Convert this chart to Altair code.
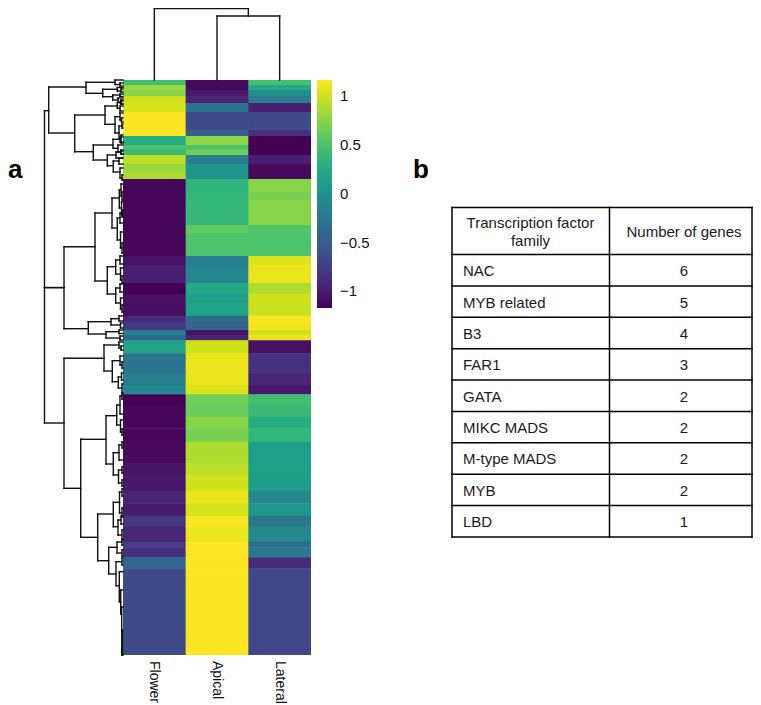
import altair as alt
import pandas as pd

FONT = "Liberation Sans"

# ---- heat map: z-scored expression, bands of genes (start in row units) ----
band_start = [0, 5, 10, 16, 23, 32, 50, 56, 65, 69.5, 75, 84, 92, 99, 112, 120, 145, 153, 176, 185, 203, 214, 223, 235.7, 241.7, 250, 255, 260.3, 273.3, 294, 305, 314.3, 325, 336.7, 348.3, 361.7, 383, 395, 410.7, 423.3, 435.7, 446.7, 461.7, 467.3, 477.3, 488.3]
band_end = band_start[1:] + [575]
flower_t = [.70, .85, .82, .93, .94, 1, 1, .62, .72, .68, .90, .85, .88, .01, .01, .01, .01, .01, .05, .08, .00, .04, .03, .12, .16, .43, .33, .58, .38, .42, .47, .00, .01, .01, .01, .02, .05, .06, .10, .07, .16, .10, .18, .14, .33, .22]
apical_t = [.02, .02, .06, .10, .38, .22, .30, .83, .72, .78, .42, .52, .50, .65, .66, .67, .76, .72, .42, .45, .60, .56, .58, .35, .32, .05, .10, .93, .97, .97, .95, .78, .77, .82, .80, .88, .90, .93, .97, .94, .99, .97, 1, 1, 1, 1]
lateral_t = [.70, .60, .50, .42, .08, .22, .14, 0, 0, 0, .08, .02, .02, .82, .80, .82, .73, .72, .95, .97, .88, .93, .92, 1, .98, .93, .97, .04, .14, .10, .06, .70, .68, .62, .66, .56, .57, .55, .47, .53, .40, .47, .35, .40, .12, .21]
columns = ["Flower", "Apical", "Lateral"]
Z_MIN, Z_MAX = -1.17, 1.165
tick_values = [-1, -0.5, 0, 0.5, 1]

# ---- row dendrogram: height, top row, bottom row, top child height, bottom child height ----
merges = [
 (78.5,30.7,207.6,74.3,59),(78.5,207.6,343,59,59),
 (74.3,7,53,37,48.3),(37,2.3,13.3,8,20.3),(8,0,4.5,0,3),(3,3,6,0,0),(20.3,9.3,16.7,5.7,10.3),
 (5.7,7.5,11,0,2),(2,9,12,0,0),(10.3,15,20,3,5),(3,14,16.5,0,0),(5,18,22,0,2),(2,20,24,0,0),
 (48.3,35,71.7,18,29.7),(18,26,44.3,5.7,8),(5.7,22.7,28.3,2,3),(2,21,24,0,0),(3,26,31,0,0),
 (8,36.7,53,3,4),(3,33,40,0,1.5),(1.5,38,42,0,0),(4,46,59,1,2),(1,44,48,0,0),(2,55,63,0,0),
 (29.7,65,80,10,15.7),(10,59.3,68.3,3,5),(3,57,62,0,0),(5,65,72,0,2),(2,70,74,0,0),
 (15.7,75,85.7,7,9.7),(7,72,78,2,0),(2,71,74,0,0),(9.7,81,92,4,3),(4,78,84,0,0),(3,88,98,0,1),(1,95,100,0,0),
 (59,166.7,248.7,28,34.7),(28,133,201,11,15.7),(11,118,148,3.7,5.7),(3.7,110,128,2,1.5),(5.7,138,160,3,2.5),
 (2,104,116,0,1),(1.5,122,134,0,.8),(3,133,143,1,0),(1,112,120,0,0),(.8,130,137,0,0),(1,130,136,0,0),
 (2.5,152,168,0,1),(1,163,173,0,0),
 (15.7,186.7,214,7.3,7.3),(7.3,180,194,3,2.5),(7.3,208,223,3,2.5),(3,176,184,0,0),(2.5,188,200,0,1),(1,196,203,0,0),
 (3,204,212,0,0),(2.5,218,229,0,1),(1,225,232,0,0),
 (34.7,241.7,254,12,17),(12,238.7,245,4,2.5),(4,236,241,0,0),(2.5,243,248,0,0),(17,251.7,258,4,3),(4,250,253.5,0,0),(3,256,260,0,0),
 (59,278.3,408.3,19,42.3),(19,265,291,4,10.7),(4,262,268,0,2),(2,266,270,0,0),
 (10.7,280.7,301.7,3,4.7),(3,276,285,0,1),(1,282,288,0,0),(4.7,297,308,1.5,1),(1.5,293,300,0,0),(1,304,313,0,0),
 (42.3,359.3,457.3,17,25.3),(17,335.7,384,6.3,9.7),(6.3,325,345,3,2.5),(3,316,334,1,0),(1,314,319,0,0),(2.5,340,352,0,1),(1,349,355,0,0),
 (9.7,372.7,395,4,4.5),(4,365,380,1,0),(1,362,368,0,0),(4.5,390,403,1,1),(1,387,393,0,0),(1,400,406,0,0),
 (25.3,434,480.7,9.7,14.3),(9.7,422.3,446.7,3.5,5),(3.5,412,433,1,1),(5,440,455,2,1),(1,409,416,0,0),(1,428,437,0,0),(2,436,444,0,0),(1,450,459,0,0),
 (14.3,467.3,494,6,7),(6,462,473,1,1),(1,460,465,0,0),(1,470,476,0,0),
 (7,481.7,505.7,1,3.7),(1,478,485,0,0),(3.7,491.7,521.7,.5,2.3),(2.3,510,534,.3,1.3),(1.3,527,575,0,.6),(.6,550,575,0,0),
]

# ---- column dendrogram: position in columns, height ----
col_merges = [(1.5, 2.5, 64, 0, 0), (0.5, 2.0, 71.5, 0, 64)]

# ---- table ----
families = ["NAC", "MYB related", "B3", "FAR1", "GATA", "MIKC MADS", "M-type MADS", "MYB", "LBD"]
gene_counts = [6, 5, 4, 3, 2, 2, 2, 2, 1]


def z_from_t(t):
    return Z_MIN + t * (Z_MAX - Z_MIN)


rows = []
for col, ts in enumerate([flower_t, apical_t, lateral_t]):
    for s, e, t in zip(band_start, band_end, ts):
        # each band is painted slightly over the previous one so no seams show
        rows.append(dict(c0=col, c1=min(col + 1.01, 3), r0=s, r1=min(e + 0.5, 575), z=z_from_t(t)))
heat_df = pd.DataFrame(rows)

x_col = alt.Scale(domain=[0, 3], range=[115, 303], nice=False, zero=False)
y_row = alt.Scale(domain=[0, 575], range=[72, 647], nice=False, zero=False)
x_hgt = alt.Scale(domain=[0, 100], range=[115, 15], nice=False, zero=False)
y_hgt = alt.Scale(domain=[0, 72], range=[72, 0], nice=False, zero=False)
color_scale = alt.Scale(scheme="viridis", domain=[Z_MIN, Z_MAX], nice=False, zero=False)

heat = alt.Chart(heat_df).mark_rect(stroke=None).encode(
    x=alt.X("c0:Q", scale=x_col, axis=None),
    x2="c1:Q",
    y=alt.Y("r0:Q", scale=y_row, axis=None),
    y2="r1:Q",
    color=alt.Color("z:Q", scale=color_scale, legend=alt.Legend(
        orient="none", legendX=309, legendY=72, title=None, type="gradient",
        gradientLength=228, gradientThickness=15, values=tick_values, format="~g",
        labelFont=FONT, labelFontSize=15, labelColor="#111111", labelOffset=8, labelOverlap=False,
        padding=0, gradientStrokeWidth=0)),
)

segs = []
for h, pt, pb, ht, hb in merges:
    segs += [dict(h1=h, h2=h, p1=pt, p2=pb), dict(h1=h, h2=ht, p1=pt, p2=pt), dict(h1=h, h2=hb, p1=pb, p2=pb)]
row_dendro = alt.Chart(pd.DataFrame(segs)).mark_rule(color="#111111", strokeWidth=1.4, strokeCap="square").encode(
    x=alt.X("h1:Q", scale=x_hgt, axis=None), x2="h2:Q",
    y=alt.Y("p1:Q", scale=y_row, axis=None), y2="p2:Q",
)

csegs = []
for a, b, h, ha, hb in col_merges:
    csegs += [dict(a=a, b=b, h1=h, h2=h), dict(a=a, b=a, h1=h, h2=ha), dict(a=b, b=b, h1=h, h2=hb)]
col_dendro = alt.Chart(pd.DataFrame(csegs)).mark_rule(color="#111111", strokeWidth=1.4, strokeCap="square").encode(
    x=alt.X("a:Q", scale=x_col, axis=None), x2="b:Q",
    y=alt.Y("h1:Q", scale=y_hgt, axis=None), y2="h2:Q",
)

col_labels = alt.Chart(pd.DataFrame({"pos": [0.5, 1.5, 2.5], "label": columns, "r": [581, 581, 581]})).mark_text(
    angle=90, align="left", baseline="middle", font=FONT, fontSize=14, color="#111111"
).encode(
    x=alt.X("pos:Q", scale=x_col, axis=None),
    y=alt.Y("r:Q", scale=y_row, axis=None),
    text="label:N",
)

# table scales: x in table pixels wide, y in row heights
x_tab = alt.Scale(domain=[0, 300], range=[444, 744], nice=False, zero=False)
y_tab = alt.Scale(domain=[0, 10.5], range=[199.5, 529], nice=False, zero=False)
HEADER = 1.5
edges = [0] + [HEADER + i for i in range(len(families) + 1)]
h_lines = pd.DataFrame({"a": [0] * len(edges), "b": [300] * len(edges), "r": edges, "r2": edges})
v_lines = pd.DataFrame({"a": [0, 157.5, 300], "b": [0, 157.5, 300], "r": [0] * 3, "r2": [edges[-1]] * 3})
table_lines = alt.Chart(pd.concat([h_lines, v_lines])).mark_rule(color="#000000", strokeWidth=1.5, strokeCap="square").encode(
    x=alt.X("a:Q", scale=x_tab, axis=None), x2="b:Q",
    y=alt.Y("r:Q", scale=y_tab, axis=None), y2="r2:Q",
)
family_text = alt.Chart(pd.DataFrame({"t": families, "x": [11] * len(families), "r": [HEADER + i + .53 for i in range(len(families))]})).mark_text(
    align="left", baseline="middle", font=FONT, fontSize=15, color="#1a1a1a"
).encode(x=alt.X("x:Q", scale=x_tab, axis=None), y=alt.Y("r:Q", scale=y_tab, axis=None), text="t:N")
count_text = alt.Chart(pd.DataFrame({"t": gene_counts, "x": [232] * len(families), "r": [HEADER + i + .53 for i in range(len(families))]})).mark_text(
    align="center", baseline="middle", font=FONT, fontSize=15, color="#1a1a1a"
).encode(x=alt.X("x:Q", scale=x_tab, axis=None), y=alt.Y("r:Q", scale=y_tab, axis=None), text="t:N")
header_text = alt.Chart(pd.DataFrame({"t": ["Transcription factor", "family", "Number of genes"], "x": [78.5, 78.5, 232], "r": [.5, 1.07, .79]})).mark_text(
    align="center", baseline="middle", font=FONT, fontSize=15, color="#1a1a1a"
).encode(x=alt.X("x:Q", scale=x_tab, axis=None), y=alt.Y("r:Q", scale=y_tab, axis=None), text="t:N")

panel_letters = alt.Chart(pd.DataFrame({"t": ["a", "b"], "x": [0, 405], "y": [162, 162]})).mark_text(
    align="left", baseline="middle", font=FONT, fontSize=26, fontWeight="bold", color="#000000"
).encode(
    x=alt.X("x:Q", scale=alt.Scale(domain=[0, 745], range=[0, 745], nice=False, zero=False), axis=None),
    y=alt.Y("y:Q", scale=alt.Scale(domain=[0, 697], range=[0, 697], nice=False, zero=False), axis=None),
    text="t:N",
)

chart = alt.layer(
    heat, row_dendro, col_dendro, col_labels, table_lines, family_text, count_text, header_text, panel_letters
).resolve_scale(x="independent", y="independent").properties(
    width=745, height=697, padding=0, autosize=alt.AutoSizeParams(type="none")
).configure_view(stroke=None)

chart.save("out.html", embed_options={"renderer": "svg", "actions": False})
